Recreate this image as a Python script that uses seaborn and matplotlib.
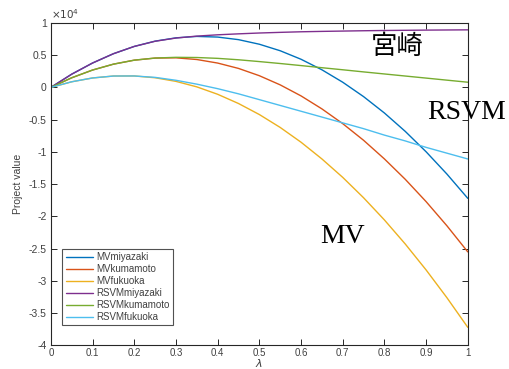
import numpy as np
import pandas as pd
import matplotlib
matplotlib.use("Agg")
import matplotlib.pyplot as plt
import seaborn as sns

# lambda grid
lam = [0.00, 0.05, 0.10, 0.15, 0.20, 0.25, 0.30, 0.35, 0.40, 0.45, 0.50,
       0.55, 0.60, 0.65, 0.70, 0.75, 0.80, 0.85, 0.90, 0.95, 1.00]

# project value, in units of 10^4
mv_miyazaki = [0, 0.205, 0.378, 0.522, 0.635, 0.717, 0.768, 0.790, 0.780, 0.740, 0.669,
               0.568, 0.436, 0.273, 0.080, -0.143, -0.397, -0.682, -0.998, -1.344, -1.72]
mv_kumamoto = [0, 0.149, 0.269, 0.360, 0.422, 0.454, 0.458, 0.432, 0.377, 0.294, 0.181,
               0.039, -0.132, -0.333, -0.562, -0.820, -1.109, -1.425, -1.771, -2.146, -2.55]
mv_fukuoka = [0, 0.087, 0.146, 0.176, 0.177, 0.149, 0.093, 0.008, -0.107, -0.250, -0.421,
              -0.621, -0.850, -1.109, -1.395, -1.711, -2.055, -2.428, -2.830, -3.261, -3.72]
rsvm_miyazaki = [0, 0.205, 0.378, 0.522, 0.635, 0.715, 0.765, 0.795, 0.815, 0.830, 0.843,
                 0.853, 0.862, 0.868, 0.873, 0.878, 0.882, 0.885, 0.888, 0.890, 0.892]
rsvm_kumamoto = [0, 0.149, 0.269, 0.360, 0.422, 0.455, 0.466, 0.463, 0.450, 0.428, 0.400,
                 0.370, 0.338, 0.305, 0.273, 0.240, 0.208, 0.176, 0.144, 0.112, 0.080]
rsvm_fukuoka = [0, 0.087, 0.146, 0.176, 0.177, 0.155, 0.110, 0.050, -0.020, -0.100, -0.190,
                -0.280, -0.370, -0.460, -0.550, -0.640, -0.740, -0.830, -0.930, -1.020, -1.110]

series_names = ["MVmiyazaki", "MVkumamoto", "MVfukuoka",
                "RSVMmiyazaki", "RSVMkumamoto", "RSVMfukuoka"]
series_values = [mv_miyazaki, mv_kumamoto, mv_fukuoka,
                 rsvm_miyazaki, rsvm_kumamoto, rsvm_fukuoka]
colors = ["#0072BD", "#D95319", "#EDB120", "#7E2F8E", "#77AC30", "#4DBEEE"]

y_ticks = [-4, -3.5, -3, -2.5, -2, -1.5, -1, -0.5, 0, 0.5, 1]
x_ticks = [0, 0.1, 0.2, 0.3, 0.4, 0.5, 0.6, 0.7, 0.8, 0.9, 1]

rows = []
for name, vals in zip(series_names, series_values):
    for x, v in zip(lam, vals):
        rows.append({"lam": x, "value": v, "series": name})
df = pd.DataFrame(rows)

sns.set_style("white")
plt.rcParams["font.family"] = ["Liberation Sans", "DejaVu Sans"]

fig = plt.figure(figsize=(5.09, 3.69), dpi=100)
ax = fig.add_axes([0.100, 0.064, 0.819, 0.874])

sns.lineplot(data=df, x="lam", y="value", hue="series", hue_order=series_names,
             palette=colors, linewidth=1.0, ax=ax)

ax.set_xlim(0, 1)
ax.set_ylim(-4, 1)
ax.set_xticks(x_ticks)
ax.set_yticks(y_ticks)
ax.set_xticklabels(["%g" % t for t in x_ticks])
ax.set_yticklabels(["%g" % t for t in y_ticks])

grey = "#404040"
for s in ax.spines.values():
    s.set_color("#262626")
    s.set_linewidth(0.8)
ax.tick_params(direction="in", length=4, width=0.7, colors="#262626",
               labelcolor=grey, labelsize=7.5, top=True, right=True,
               left=True, bottom=True, pad=3)
ax.tick_params(axis="x", pad=2, labelsize=7)

ax.set_xlabel("")
ax.set_ylabel("Project value", fontsize=7.5, color=grey, labelpad=4)
fig.text(0.100 + 0.819 * 0.5, 0.0, r"$\lambda$", fontsize=8, color=grey,
         ha="center", va="bottom")
ax.text(0.0, 1.005, r"$\times10^4$", transform=ax.transAxes, fontsize=7.5,
        color=grey, ha="left", va="bottom")

leg = ax.legend(loc="lower left", bbox_to_anchor=(0.027, 0.062), fontsize=7,
                frameon=True, fancybox=False, handlelength=2.8, handletextpad=0.4,
                labelspacing=0.2, borderpad=0.35, borderaxespad=0)
leg.get_frame().set_edgecolor("#262626")
leg.get_frame().set_linewidth(0.8)
for t in leg.get_texts():
    t.set_color(grey)

ax.text(0.83, 0.63, "宮崎", fontsize=19, ha="center", va="center",
        family=["Noto Sans CJK JP", "DejaVu Sans"], color="black")
ax.text(0.998, -0.385, "RSVM", fontsize=20, ha="center", va="center",
        family=["Liberation Serif", "DejaVu Serif"], color="black", clip_on=False)
ax.text(0.70, -2.31, "MV", fontsize=20, ha="center", va="center",
        family=["Liberation Serif", "DejaVu Serif"], color="black")

fig.savefig("out.png", dpi=100)
